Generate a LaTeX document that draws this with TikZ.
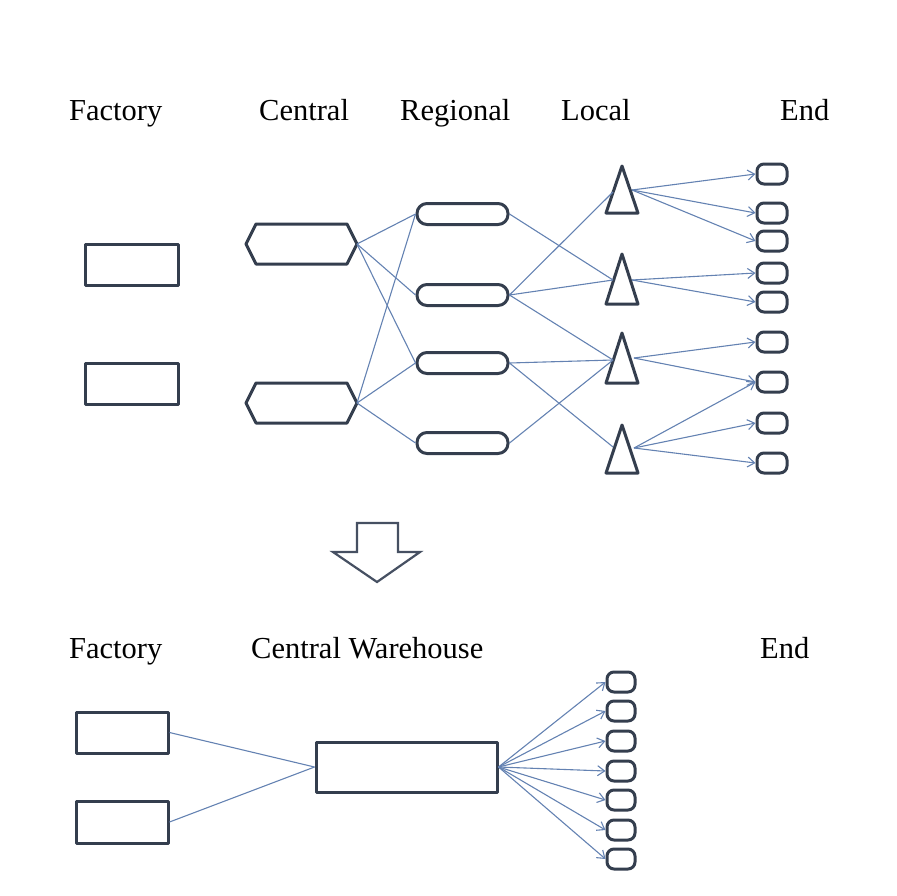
\documentclass[tikz,border=0pt]{standalone}
\usepackage{fontspec}
\setmainfont{Liberation Serif}
\usetikzlibrary{arrows.meta}
\definecolor{edge}{RGB}{52,62,78}
\definecolor{link}{RGB}{100,130,178}
\definecolor{bigarrow}{RGB}{70,80,98}
\tikzset{
  shapeline/.style={draw=edge, line width=3pt, line join=round},
  box/.style={shapeline, rectangle, inner sep=0pt},
  pill/.style={shapeline, rectangle, rounded corners=10pt, minimum width=91pt, minimum height=21pt, inner sep=0pt},
  endpill/.style={shapeline, rectangle, rounded corners=7pt, minimum width=30pt, minimum height=20pt, inner sep=0pt},
  endpillb/.style={endpill, minimum width=28pt},
  link/.style={draw=link, line width=1.1pt},
  flow/.style={link, -{Straight Barb[length=7pt,width=10pt,line width=1.1pt]}},
  lbl/.style={anchor=base west, inner sep=0pt, font=\fontsize{30.5}{36}\selectfont}
}
\begin{document}
\begin{tikzpicture}[x=1pt,y=-1pt]
\useasboundingbox (0,0) rectangle (897,895);

% column headings, upper network
\node[lbl] (hfac) at (69,120) {Factory};
\node[lbl] (hcen) at (259,120) {Central};
\node[lbl] (hreg) at (400,120) {Regional};
\node[lbl] (hloc) at (561,120) {Local};
\node[lbl] (hend) at (780,120) {End};

% factories
\node[box, minimum width=93pt, minimum height=41pt] (f1) at (131.5,264.5) {};
\node[box, minimum width=93pt, minimum height=41pt] (f2) at (131.5,383.5) {};

% central warehouses (hexagons)
\draw[shapeline] (246,244) -- (256,224) -- (347,224) -- (357,244) -- (347,264) -- (256,264) -- cycle;
\draw[shapeline] (246,403) -- (256,383) -- (347,383) -- (357,403) -- (347,423) -- (256,423) -- cycle;
\coordinate (c1) at (357,244);
\coordinate (c2) at (357,403);

% regional warehouses
\node[pill] (r1) at (462.5,214) {};
\node[pill] (r2) at (462.5,295) {};
\node[pill] (r3) at (462.5,363) {};
\node[pill] (r4) at (462.5,443) {};

% local warehouses (triangles)
\draw[shapeline] (622,166) -- (638,213) -- (606,213) -- cycle;
\draw[shapeline] (622,254) -- (638,304) -- (606,304) -- cycle;
\draw[shapeline] (622,333) -- (638,383) -- (606,383) -- cycle;
\draw[shapeline] (622,425) -- (638,473) -- (606,473) -- cycle;
\coordinate (l1in) at (613,192);   \coordinate (l1out) at (632,190);
\coordinate (l2in) at (613,280);   \coordinate (l2out) at (632,280);
\coordinate (l3in) at (613,360);   \coordinate (l3out) at (634,358);
\coordinate (l4in) at (613,447);   \coordinate (l4out) at (634,448);

% end customers
\foreach \i/\y in {1/174,2/213,3/241,4/273,5/302,6/342,7/382,8/423,9/463}
  \node[endpill] (e\i) at (772,\y) {};

% central -> regional
\draw[link] (c1) -- (r1.west);
\draw[link] (c1) -- (r2.west);
\draw[link] (c1) -- (r3.west);
\draw[link] (c2) -- (r1.west);
\draw[link] (c2) -- (r3.west);
\draw[link] (c2) -- (r4.west);

% regional -> local
\draw[link] (r1.east) -- (l2in);
\draw[link] (r2.east) -- (l1in);
\draw[link] (r2.east) -- (l2in);
\draw[link] (r2.east) -- (l3in);
\draw[link] (r3.east) -- (l3in);
\draw[link] (r3.east) -- (l4in);
\draw[link] (r4.east) -- (l3in);

% local -> end
\draw[flow] (l1out) -- (e1.west);
\draw[flow] (l1out) -- (e2.west);
\draw[flow] (l1out) -- (e3.west);
\draw[flow] (l2out) -- (e4.west);
\draw[flow] (l2out) -- (e5.west);
\draw[flow] (l3out) -- (e6.west);
\draw[flow] (l3out) -- (e7.west);
\draw[flow] (l4out) -- (e7.west);
\draw[flow] (l4out) -- (e8.west);
\draw[flow] (l4out) -- (e9.west);

% block arrow between the two networks
\draw[draw=bigarrow, line width=2.2pt, line join=miter, fill=white]
  (357,523) -- (398,523) -- (398,552) -- (420,552) -- (377,582) -- (333,552) -- (357,552) -- cycle;

% headings, lower network
\node[lbl] (bfac) at (69,658) {Factory};
\node[lbl] (bcen) at (251,658) {Central Warehouse};
\node[lbl] (bend) at (760,658) {End};

% factories and single central warehouse
\node[box, minimum width=92pt, minimum height=41pt] (g1) at (122,732.5) {};
\node[box, minimum width=92pt, minimum height=42pt] (g2) at (122,822) {};
\node[box, minimum width=181pt, minimum height=50pt] (cw) at (406.5,767) {};

% end customers
\foreach \i/\y in {1/682,2/711,3/741,4/771,5/800,6/830,7/859}
  \node[endpillb] (k\i) at (621,\y) {};

\draw[link] (g1.east) -- (cw.west);
\draw[link] (g2.east) -- (cw.west);
\foreach \i in {1,...,7}
  \draw[flow] (cw.east) -- (k\i.west);
\end{tikzpicture}
\end{document}
